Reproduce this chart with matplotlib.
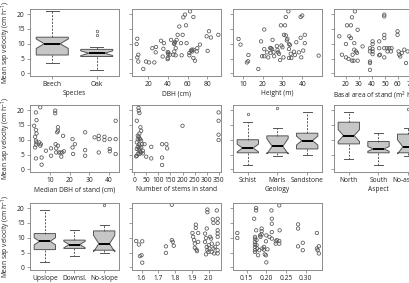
#!/usr/bin/env python3
"""Mean sap velocity against stand and site variables (3x4 panel grid)."""

import matplotlib
matplotlib.use("Agg")
import matplotlib.pyplot as plt

# ---- box panels: whislo, q1, med, q3, whishi, cilo, cihi ----
species_labels = ["Beech", "Oak"]
species_box = [
    [3.6, 6.2, 10.0, 12.2, 20.9, 8.4, 11.6],
    [1.2, 5.7, 6.8, 8.1, 8.8, 6.0, 7.6],
]
species_out = [[], [13.0, 14.4]]

geology_labels = ["Schist", "Marls", "Sandstone"]
geology_box = [
    [1.4, 5.6, 7.2, 10.0, 16.1, 5.9, 8.5],
    [4.4, 5.6, 7.8, 11.3, 13.9, 5.2, 10.4],
    [4.7, 6.9, 9.7, 12.2, 19.4, 8.2, 11.2],
]
geology_out = [[18.7], [20.6], []]

aspect_labels = ["North", "South", "No-aspect"]
aspect_box = [
    [3.6, 8.6, 11.4, 15.9, 19.4, 9.4, 13.4],
    [1.4, 5.6, 6.9, 9.4, 12.4, 6.1, 7.7],
    [4.4, 5.6, 7.6, 11.9, 14.1, 5.2, 10.0],
]
aspect_out = [[], [], [20.2]]

slope_labels = ["Upslope", "Downsl.", "No-slope"]
slope_box = [
    [1.7, 6.0, 8.8, 11.4, 19.2, 7.6, 10.0],
    [3.9, 6.4, 7.7, 9.2, 12.5, 6.6, 8.8],
    [4.9, 5.8, 8.0, 12.3, 14.4, 5.2, 10.8],
]
slope_out = [[], [], [20.9]]

# ---- scatter panels ----
dbh_x = [8.8, 8.1, 9.8, 8.8, 9.8, 14.9, 17.6, 20.7, 26.1, 24.1, 27.8, 27.5,
         32.9, 35.9, 35.3, 34.6, 39.7, 39.7, 39.7, 40.3, 42.0, 43.1, 45.4,
         46.4, 46.4, 47.1, 47.8, 46.4, 47.8, 48.8, 49.8, 51.5, 55.6, 57.3,
         54.9, 53.2, 53.9, 58.3, 58.9, 62.4, 65.8, 61.7, 63.4, 64.1, 64.7,
         65.8, 65.8, 67.5, 69.2, 69.8, 72.5, 79.3, 80.3, 81.7, 83.7, 91.2,
         61.7, 40.3]
dbh_y = [11.7, 9.9, 6.3, 5.4, 4.0, 1.5, 4.0, 3.7, 3.7, 8.5, 8.9, 7.1,
         11.0, 10.2, 8.3, 5.7, 7.2, 5.2, 4.8, 6.5, 6.3, 11.3, 6.3,
         10.2, 9.9, 10.6, 8.5, 7.4, 6.1, 11.3, 13.0, 15.8, 18.9, 19.8,
         13.0, 10.2, 6.1, 16.2, 10.2, 20.9, 19.0, 6.9, 7.6, 8.0, 7.4,
         8.0, 5.2, 4.3, 7.4, 8.5, 9.7, 12.5, 7.6, 14.2, 12.1, 13.0,
         6.1, 7.0]

height_x = [7.8, 8.8, 12.8, 12.0, 12.6, 17.8, 20.8, 19.2, 20.8, 19.7, 20.8,
            22.2, 22.8, 23.8, 24.2, 24.7, 25.0, 25.5, 25.8, 27.2, 27.5,
            27.8, 28.3, 28.8, 29.2, 30.0, 30.5, 31.3, 31.7, 30.8, 31.7,
            32.5, 32.2, 33.0, 33.3, 33.8, 33.3, 34.2, 34.5, 33.3, 35.8,
            36.3, 37.0, 38.3, 39.2, 39.5, 39.2, 40.0, 40.5, 41.3, 41.3,
            48.3, 29.5, 24.0]
height_y = [11.6, 9.7, 6.2, 3.7, 4.1, 1.5, 14.8, 10.8, 8.2, 5.8, 5.8,
            7.1, 5.4, 8.6, 8.5, 8.2, 11.3, 7.1, 5.8, 9.2, 7.9,
            7.1, 6.6, 4.5, 16.2, 8.8, 5.4, 16.2, 19.0, 13.0, 12.8,
            11.6, 11.1, 20.9, 9.9, 9.6, 8.2, 6.6, 5.2, 5.2, 7.3,
            6.2, 10.5, 7.1, 12.0, 5.4, 19.0, 19.5, 7.7, 13.0, 10.2,
            6.0, 9.4, 6.9]

basal_x = [14.9, 16.9, 20.0, 20.8, 20.0, 22.0, 22.6, 23.8, 23.8, 24.6, 25.1,
           24.6, 25.9, 26.4, 26.4, 26.9, 27.7, 28.5, 29.0, 29.0, 32.8,
           38.5, 38.5, 38.5, 38.5, 38.5, 40.5, 40.5, 40.5, 40.5, 40.5,
           45.6, 45.6, 46.2, 45.6, 49.5, 49.5, 49.5, 49.5, 49.5, 49.5,
           51.5, 52.0, 53.3, 54.6, 55.1, 59.7, 59.7, 60.5, 61.0, 61.8,
           63.0, 64.9, 66.2, 67.4, 72.0, 75.0]
basal_y = [12.5, 6.3, 9.9, 16.2, 5.4, 4.9, 12.5, 16.2, 11.9, 18.9, 6.3,
           4.3, 4.3, 8.0, 10.2, 20.9, 7.4, 6.9, 14.7, 4.3, 9.1,
           8.5, 7.4, 4.0, 3.5, 1.2, 10.8, 9.9, 8.3, 7.4, 6.5,
           8.5, 6.1, 6.3, 10.8, 19.8, 19.2, 13.0, 11.9, 8.5, 5.4,
           8.5, 7.4, 8.5, 7.4, 8.5, 14.2, 13.0, 7.4, 6.3, 5.7,
           6.9, 8.0, 3.5, 7.4, 10.0, 6.0]

mdbh_x = [1.9, 2.4, 2.8, 2.4, 2.8, 3.1, 2.8, 3.1, 2.8, 3.1, 2.8, 5.0, 4.5,
          5.0, 5.7, 5.7, 5.3, 7.9, 10.5, 10.5, 12.6, 12.6, 12.8, 13.1,
          13.1, 14.0, 14.0, 13.6, 14.0, 14.5, 15.3, 15.7, 16.2, 16.6,
          17.0, 21.4, 21.4, 21.7, 22.6, 27.8, 27.8, 27.8, 32.6, 34.7,
          34.7, 34.7, 37.6, 37.6, 40.3, 40.3, 40.3, 43.3, 43.3, 43.3]
mdbh_y = [14.7, 11.0, 8.3, 7.4, 19.2, 16.6, 13.3, 12.1, 9.7, 9.1, 3.7, 20.9,
          9.1, 8.0, 4.0, 1.6, 8.5, 6.3, 7.1, 4.6, 19.8, 18.9, 8.5, 7.1,
          5.7, 14.2, 13.0, 12.5, 8.0, 5.7, 5.7, 4.3, 5.7, 11.3,
          6.1, 10.2, 7.4, 5.2, 8.5, 12.5, 6.5, 4.6, 10.8, 11.3,
          10.2, 5.7, 11.0, 9.9, 10.2, 6.9, 6.1, 16.4, 10.2, 5.2]

stems_x = [17, 18, 21, 10, 25, 28, 21, 18, 21, 24, 14, 28, 10, 18, 21, 32,
           42, 14, 21, 28, 10, 18, 35, 28, 14, 10, 21, 35, 49, 70, 70,
           115, 115, 115, 133, 136, 200, 350, 350, 350, 350, 7, 14, 24]
stems_y = [20.7, 19.8, 19.0, 16.4, 14.2, 13.0, 12.1, 11.0, 10.4, 10.2, 10.2,
           9.7, 9.1, 8.5, 8.0, 8.5, 8.5, 7.6, 7.1, 7.4, 6.9, 6.5, 6.3, 5.7,
           5.2, 4.6, 5.2, 5.4, 4.3, 7.6, 3.7, 8.5, 4.0, 1.5, 8.5, 7.1,
           14.7, 19.2, 16.4, 11.7, 9.9, 4.4, 11.4, 6.0]

r3b_x = [1.568, 1.584, 1.604, 1.590, 1.600, 1.604, 1.745, 1.745, 1.780,
         1.780, 1.786, 1.792, 1.903, 1.907, 1.923, 1.923, 1.937, 1.913,
         1.917, 1.917, 1.927, 1.937, 1.978, 1.978, 1.984, 1.988, 1.992,
         1.992, 1.988, 1.992, 1.998, 1.984, 2.008, 2.014, 2.018, 2.004,
         2.018, 2.024, 2.028, 2.028, 2.038, 2.032, 2.048, 2.053, 2.053,
         2.053, 2.053, 2.053, 2.053, 2.053, 2.053, 1.930, 2.000]
r3b_y = [8.9, 7.7, 8.8, 3.8, 4.1, 1.6, 7.1, 4.9, 21.1,
         9.2, 8.6, 7.3, 11.6, 10.3, 14.4, 13.3, 11.6, 9.2,
         8.0, 6.6, 6.0, 8.6, 8.6, 11.4, 9.9, 13.1, 19.5,
         18.6, 6.9, 5.8, 5.2, 4.4, 10.3, 9.7, 8.0, 6.4,
         5.2, 16.2, 15.0, 6.4, 6.9, 4.7, 19.2, 16.4, 15.0,
         12.5, 11.4, 10.3, 8.0, 5.8, 4.7, 5.5, 7.5]

r3c_x = [0.126, 0.126, 0.174, 0.174, 0.169, 0.171, 0.171, 0.171, 0.171,
         0.171, 0.171, 0.171, 0.174, 0.175, 0.175, 0.177, 0.179, 0.182,
         0.185, 0.188, 0.188, 0.188, 0.184, 0.190, 0.194, 0.194, 0.196,
         0.199, 0.199, 0.200, 0.200, 0.203, 0.208, 0.213, 0.214, 0.214,
         0.214, 0.214, 0.224, 0.224, 0.227, 0.233, 0.233, 0.234, 0.233,
         0.281, 0.281, 0.281, 0.293, 0.293, 0.329, 0.329, 0.331, 0.334,
         0.334]
r3c_y = [11.6, 9.9, 20.0, 19.2, 16.4, 10.3, 9.7, 8.6, 7.7,
         6.9, 5.8, 5.2, 12.5, 9.2, 7.5, 6.4, 4.1, 5.8,
         10.3, 13.1, 12.2, 11.1, 10.8, 6.4, 6.9, 6.0, 4.4,
         8.8, 4.1, 1.7, 10.8, 6.1, 10.3, 19.2, 16.4, 14.7,
         11.9, 9.7, 8.0, 8.8, 9.2, 20.9, 8.9, 12.5, 8.0,
         14.5, 13.1, 7.1, 8.3, 5.8, 11.6, 6.4, 5.8, 7.1,
         4.7]

Y_LABEL = "Mean sap velocity (cm h$^{-1}$)"
GREY = "#8c8c8c"
TXT = "#222222"

plt.rcParams.update({
    "font.family": ["Open Sans", "DejaVu Sans"],
    "font.size": 4.8,
    "axes.linewidth": 0.7,
    "axes.edgecolor": GREY,
    "xtick.color": GREY,
    "ytick.color": GREY,
    "xtick.labelcolor": TXT,
    "ytick.labelcolor": TXT,
    "xtick.major.size": 2.2,
    "ytick.major.size": 2.2,
    "xtick.major.width": 0.6,
    "ytick.major.width": 0.6,
    "xtick.major.pad": 1.5,
    "ytick.major.pad": 1.5,
    "axes.labelpad": 1.8,
    "mathtext.default": "regular",
})

W, H = 410, 283
fig = plt.figure(figsize=(W / 100, H / 100), dpi=100)

col_left = [30, 132, 233, 334]
row_top = [9, 105, 203]
AW, AH = 89, 66.5


def make_axes(r, c):
    x0 = col_left[c]
    y0 = row_top[r]
    ax = fig.add_axes([x0 / W, 1 - (y0 + AH) / H, AW / W, AH / H])
    ax.set_ylim(-0.7, 21.7)
    ax.set_yticks([0, 5, 10, 15, 20])
    if c == 0:
        ax.set_ylabel(Y_LABEL, color=TXT, labelpad=3)
    else:
        ax.set_yticklabels([])
    return ax


def box_panel(ax, labels, stats, outliers, xlabel=None):
    rows = []
    for lab, s, out in zip(labels, stats, outliers):
        rows.append(dict(label=lab, whislo=s[0], q1=s[1], med=s[2], q3=s[3],
                         whishi=s[4], cilo=s[5], cihi=s[6], fliers=out))
    ax.bxp(rows, widths=0.72, capwidths=0.3, shownotches=True,
           patch_artist=True,
           boxprops=dict(facecolor="#c6c6c6", edgecolor="#555555", linewidth=0.7),
           medianprops=dict(color="black", linewidth=1.4),
           whiskerprops=dict(color="#555555", linewidth=0.7, linestyle=(0, (2, 1.5))),
           capprops=dict(color="#555555", linewidth=0.7),
           flierprops=dict(marker="o", markersize=1.8, markerfacecolor="none",
                           markeredgecolor="#555555", markeredgewidth=0.5))
    ax.set_xlim(0.5, len(labels) + 0.5)
    if xlabel:
        ax.set_xlabel(xlabel, color=TXT)


def scatter_panel(ax, x, y, xlim, xticks, xlabel=None, ticklabels=None):
    ax.scatter(x, y, s=6, facecolors="none", edgecolors="#555555", linewidths=0.55)
    ax.set_xlim(*xlim)
    ax.set_xticks(xticks)
    if ticklabels is not None:
        ax.set_xticklabels(ticklabels)
    if xlabel:
        ax.set_xlabel(xlabel, color=TXT)


# row 1
box_panel(make_axes(0, 0), species_labels, species_box, species_out, "Species")
scatter_panel(make_axes(0, 1), dbh_x, dbh_y, (3.4, 93.9), [20, 40, 60, 80], "DBH (cm)")
scatter_panel(make_axes(0, 2), height_x, height_y, (5, 50), [10, 20, 30, 40], "Height (m)")
scatter_panel(make_axes(0, 3), basal_x, basal_y, (10.8, 79.3), [20, 30, 40, 50, 60, 70],
              "Basal area of stand (m$^2$ ha$^{-1}$)")

# row 2
scatter_panel(make_axes(1, 0), mdbh_x, mdbh_y, (-0.2, 45), [10, 20, 30, 40],
              "Median DBH of stand (cm)")
scatter_panel(make_axes(1, 1), stems_x, stems_y, (-10, 360), list(range(0, 351, 50)),
              "Number of stems in stand")
box_panel(make_axes(1, 2), geology_labels, geology_box, geology_out, "Geology")
box_panel(make_axes(1, 3), aspect_labels, aspect_box, aspect_out, "Aspect")

# row 3
box_panel(make_axes(2, 0), slope_labels, slope_box, slope_out)
scatter_panel(make_axes(2, 1), r3b_x, r3b_y, (1.543, 2.073), [1.6, 1.7, 1.8, 1.9, 2.0],
              ticklabels=["1.6", "1.7", "1.8", "1.9", "2.0"])
scatter_panel(make_axes(2, 2), r3c_x, r3c_y, (0.115, 0.342), [0.15, 0.20, 0.25, 0.30],
              ticklabels=["0.15", "0.20", "0.25", "0.30"])

fig.savefig("out.png", dpi=100)
